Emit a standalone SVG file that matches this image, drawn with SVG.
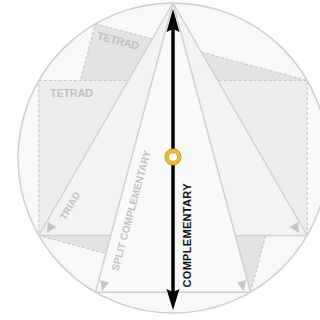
<svg xmlns="http://www.w3.org/2000/svg" width="320" height="320" viewBox="0 0 320 320">
<style>
.dash{stroke:#c8c8c8;stroke-width:1.1;stroke-dasharray:3 2;}
.solid{stroke:#d0d0d0;stroke-width:1.4;stroke-linejoin:round;}
.lbl{font-family:"Liberation Sans",Arial,sans-serif;font-weight:bold;fill:#c2c2c2;}
.ah{fill:#c6c6c6;}
</style>
<rect width="320" height="320" fill="#ffffff"/>
<g id="wheel">
<circle cx="173" cy="158" r="155" fill="#f8f8f8" stroke="#cfcfcf" stroke-width="1.5"/>
</g>
<g id="tetrad2">
<polygon class="dash" points="95.5,23.8 307.2,80.5 250.5,292.2 38.8,235.5" fill="#e3e3e3"/>
</g>
<g id="tetrad1">
<rect class="dash" x="38.8" y="80.5" width="268.4" height="155" fill="#ededed"/>
</g>
<g id="triad">
<polygon class="solid" points="173,3 307.2,235.5 38.8,235.5" fill="#f3f3f3"/>
</g>
<g id="split">
<polygon class="solid" points="173,3 250.5,292.2 95.5,292.2" fill="#f9f9f9"/>
</g>
<g id="labels">
<text class="lbl" x="50" y="96.5" font-size="11" textLength="43">TETRAD</text>
<text class="lbl" font-size="11" textLength="43" transform="translate(96.5,39) rotate(15)">TETRAD</text>
<text class="lbl" font-size="10" text-anchor="middle" transform="translate(73,207.5) rotate(-59.7)">TRIAD</text>
<text class="lbl" font-size="10.2" text-anchor="middle" transform="translate(134.5,211.5) rotate(-74.9)">SPLIT COMPLEMENTARY</text>
<polygon class="ah" points="47,233 56.3,226.9 47.7,221.9"/>
<polygon class="ah" points="102,291.5 108.9,282.6 100.3,280.2"/>
<polygon class="ah" points="299,233 289.7,226.9 298.3,221.9"/>
<polygon class="ah" points="244,291.5 237.1,282.6 245.7,280.2"/>
</g>
<g id="connectors">
<line x1="173" y1="28" x2="173" y2="292" stroke="#000" stroke-width="3.5"/>
<path d="M173,9 L179.5,32 L173,29 L166.5,32 Z" fill="#000"/>
<path d="M173,310 L179.5,289 L173,292 L166.5,289 Z" fill="#000"/>
<text x="0" y="0" font-family="Liberation Sans,Arial,sans-serif" font-weight="bold" font-size="11" fill="#111" text-anchor="middle" textLength="104" transform="translate(190.5,235.5) rotate(-90)">COMPLEMENTARY</text>
</g>
<g id="center">
<circle cx="173" cy="157" r="6.2" fill="none" stroke="#b08714" stroke-width="4.6"/>
<circle cx="173" cy="157" r="6.2" fill="none" stroke="#ecbd34" stroke-width="3.4"/>
<circle cx="173" cy="157" r="3.9" fill="#ffffff"/>
</g>
</svg>
